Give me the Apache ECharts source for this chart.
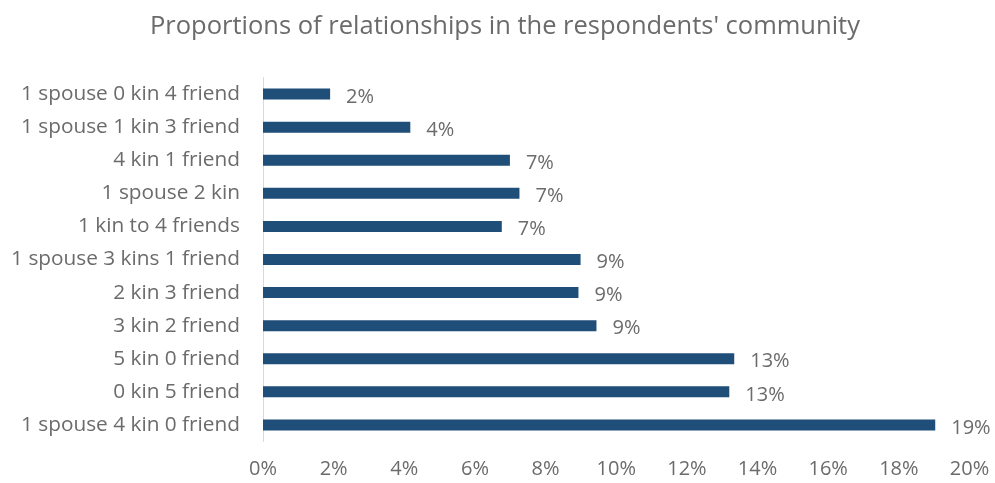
<!DOCTYPE html>
<html>
<head>
<meta charset="utf-8">
<script src="https://cdn.jsdelivr.net/npm/echarts@6/dist/echarts.min.js"></script>
<style>
  html, body { margin: 0; padding: 0; background: #ffffff; }
  #chart { width: 995px; height: 483px; }
</style>
</head>
<body>
<div id="chart"></div>
<script>
// Relationship mix categories, listed top to bottom
const categories = [
  '1 spouse 0 kin 4 friend',
  '1 spouse 1 kin 3 friend',
  '4 kin 1 friend',
  '1 spouse 2 kin',
  '1 kin to 4 friends',
  '1 spouse 3 kins 1 friend',
  '2 kin 3 friend',
  '3 kin 2 friend',
  '5 kin 0 friend',
  '0 kin 5 friend',
  '1 spouse 4 kin 0 friend'
];

// Share of respondents, in percent
const shares = [1.9, 4.17, 6.99, 7.26, 6.76, 8.99, 8.93, 9.44, 13.34, 13.2, 19.03];

// Value axis ticks
const axisMin = 0;
const axisMax = 20;
const axisStep = 2;

const textGray = '#6b6b6b';
const fontFamily = '"Open Sans", Lato, sans-serif';

const chart = echarts.init(document.getElementById('chart'), null, { renderer: 'canvas' });

chart.setOption({
  animation: false,
  backgroundColor: '#ffffff',
  title: {
    text: "Proportions of relationships in the respondents' community",
    left: 150,
    top: 14,
    padding: 0,
    textStyle: {
      color: textGray,
      fontFamily: fontFamily,
      fontSize: 25.5,
      fontWeight: 'normal'
    }
  },
  grid: {
    left: 263,
    right: 25.5,
    top: 77.5,
    height: 364,
    containLabel: false
  },
  xAxis: {
    type: 'value',
    min: axisMin,
    max: axisMax,
    interval: axisStep,
    axisLine: { show: false },
    axisTick: { show: false },
    splitLine: { show: false },
    axisLabel: {
      formatter: v => v + '%',
      color: textGray,
      fontFamily: fontFamily,
      fontSize: 20,
      margin: 18
    }
  },
  yAxis: {
    type: 'category',
    data: categories,
    inverse: true,
    axisLine: { show: true, lineStyle: { color: '#d9d9d9', width: 1 } },
    axisTick: { show: false },
    axisLabel: {
      color: textGray,
      fontFamily: fontFamily,
      fontSize: 20.8,
      margin: 23
    }
  },
  series: [{
    type: 'bar',
    data: shares,
    barWidth: 11,
    itemStyle: { color: '#1f4e79' },
    label: {
      show: true,
      position: 'right',
      distance: 16,
      offset: [0, 3],
      formatter: p => Math.round(p.value) + '%',
      color: textGray,
      fontFamily: fontFamily,
      fontSize: 20
    }
  }]
});
</script>
</body>
</html>
